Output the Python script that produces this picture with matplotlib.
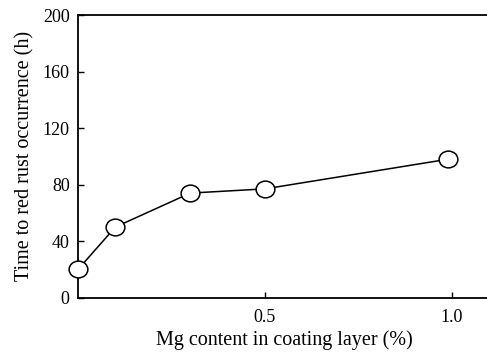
import matplotlib
matplotlib.use("Agg")
import matplotlib.pyplot as plt
from matplotlib.path import Path
from matplotlib.transforms import Affine2D

mg_content = [0.0, 0.1, 0.3, 0.5, 0.99]
time_hours = [20, 50, 74, 77, 98]
x_ticks = [0.5, 1.0]
x_tick_labels = ["0.5", "1.0"]
y_ticks = [0, 40, 80, 120, 160, 200]

plt.rcParams['font.family'] = ['Liberation Serif', 'DejaVu Serif']

fig = plt.figure(figsize=(4.87, 3.52), dpi=100)
W, H = 487, 352
left, right, top, bottom = 78, 491, 15, 297.7
ax = fig.add_axes([left / W, 1 - bottom / H, (right - left) / W, (bottom - top) / H])

ellipse = Path.unit_circle().transformed(Affine2D().scale(1.12, 1.0))
ax.plot(mg_content, time_hours, color='black', lw=1.1,
        marker=ellipse, markersize=13.5, markerfacecolor='white',
        markeredgecolor='black', markeredgewidth=1.1, clip_on=False, zorder=3)

ax.set_xlim(0, (right - left) / 374)
ax.set_ylim(0, 200)
ax.set_xticks(x_ticks)
ax.set_xticklabels(x_tick_labels)
ax.set_yticks(y_ticks)
ax.tick_params(direction='in', length=4, width=1, labelsize=13)
ax.tick_params(axis='x', pad=8)
ax.tick_params(axis='y', pad=6)
for s in ['left', 'bottom', 'top']:
    ax.spines[s].set_linewidth(1.3)
ax.spines['right'].set_visible(False)

ax.set_xlabel("Mg content in coating layer (%)", fontsize=14.5, labelpad=3)
ax.set_ylabel("Time to red rust occurrence (h)", fontsize=14.5, labelpad=6)

fig.savefig("out.png", dpi=100)
